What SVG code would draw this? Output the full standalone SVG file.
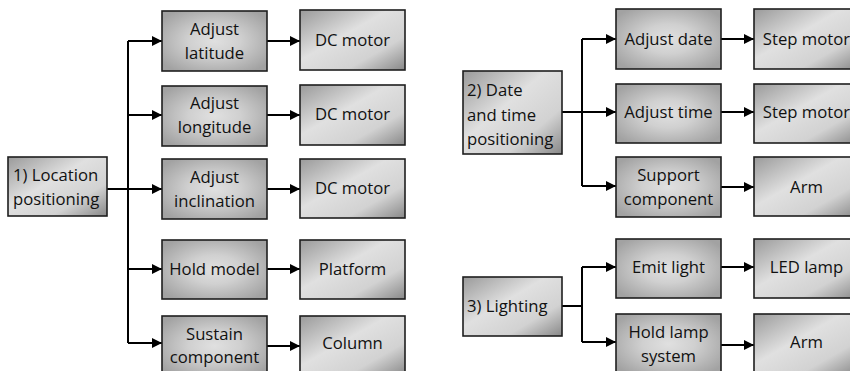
<svg xmlns="http://www.w3.org/2000/svg" width="850" height="371" viewBox="0 0 850 371">
<defs>
<linearGradient id="gDiag" x1="0" y1="0" x2="1" y2="1">
<stop offset="0" stop-color="#9a9a9a"/>
<stop offset="0.42" stop-color="#e0e0e0"/>
<stop offset="0.72" stop-color="#d2d2d2"/>
<stop offset="1" stop-color="#888888"/>
</linearGradient>
<radialGradient id="gRad" cx="0.5" cy="0.5" r="0.62">
<stop offset="0" stop-color="#e0e0e0"/>
<stop offset="0.4" stop-color="#d0d0d0"/>
<stop offset="1" stop-color="#a2a2a2"/>
</radialGradient>
<marker id="arr" viewBox="0 0 10 10" refX="10" refY="5" markerWidth="11" markerHeight="10" markerUnits="userSpaceOnUse" orient="auto">
<path d="M0,0 L10,5 L0,10 Z" fill="#000"/>
</marker>
<style>
.d{fill:url(#gDiag);stroke:#1e1e1e;stroke-width:1.6}
.r{fill:url(#gRad);stroke:#1e1e1e;stroke-width:1.6}
text{font-family:"Open Sans","Liberation Sans",sans-serif;font-size:16.7px;fill:#111}
.c{text-anchor:middle}
.ln{fill:none;stroke:#000;stroke-width:2}
.a{fill:none;stroke:#000;stroke-width:2;marker-end:url(#arr)}
</style>
</defs>

<g id="connectors">
<path class="ln" d="M107,189 H128 M128,41 V343"/>
<path class="a" d="M128,41 H162"/>
<path class="a" d="M128,115 H162"/>
<path class="a" d="M128,189 H162"/>
<path class="a" d="M128,269 H162"/>
<path class="a" d="M128,343 H162"/>
<path class="a" d="M267,41 H300"/>
<path class="a" d="M267,115 H300"/>
<path class="a" d="M267,189 H300"/>
<path class="a" d="M267,269 H300"/>
<path class="a" d="M267,346 H300"/>
<path class="ln" d="M562,112 H582 M582,39 V186"/>
<path class="a" d="M582,39 H616"/>
<path class="a" d="M582,112 H616"/>
<path class="a" d="M582,186 H616"/>
<path class="a" d="M721,39 H754"/>
<path class="a" d="M721,112 H754"/>
<path class="a" d="M721,187 H754"/>
<path class="ln" d="M562,306 H582 M582,267 V342"/>
<path class="a" d="M582,267 H616"/>
<path class="a" d="M582,342 H616"/>
<path class="a" d="M721,267 H754"/>
<path class="a" d="M721,345 H754"/>
</g>

<g id="n-location"><rect class="d" x="8" y="157" width="99" height="59"/>
<text x="13" y="181">1) Location</text><text x="13" y="205">positioning</text></g>

<g id="n-latitude"><rect class="r" x="162" y="11" width="105" height="60"/>
<text class="c" x="214.5" y="35">Adjust</text><text class="c" x="214.5" y="59">latitude</text></g>
<g id="n-longitude"><rect class="r" x="162" y="86" width="105" height="60"/>
<text class="c" x="214.5" y="109">Adjust</text><text class="c" x="214.5" y="133">longitude</text></g>
<g id="n-inclination"><rect class="r" x="162" y="159" width="105" height="60"/>
<text class="c" x="214.5" y="183">Adjust</text><text class="c" x="214.5" y="207">inclination</text></g>
<g id="n-hold"><rect class="r" x="162" y="240" width="105" height="59"/>
<text class="c" x="214.5" y="275">Hold model</text></g>
<g id="n-sustain"><rect class="r" x="162" y="316" width="105" height="60"/>
<text class="c" x="214.5" y="340">Sustain</text><text class="c" x="214.5" y="363">component</text></g>

<g id="n-dc1"><rect class="d" x="300" y="10" width="105" height="60"/>
<text class="c" x="352.5" y="46">DC motor</text></g>
<g id="n-dc2"><rect class="d" x="300" y="85" width="105" height="60"/>
<text class="c" x="352.5" y="120">DC motor</text></g>
<g id="n-dc3"><rect class="d" x="300" y="159" width="105" height="59"/>
<text class="c" x="352.5" y="194">DC motor</text></g>
<g id="n-platform"><rect class="d" x="300" y="240" width="105" height="59"/>
<text class="c" x="352.5" y="275">Platform</text></g>
<g id="n-column"><rect class="d" x="300" y="316" width="105" height="60"/>
<text class="c" x="352.5" y="349">Column</text></g>

<g id="n-datetime"><rect class="d" x="463" y="71" width="99" height="83"/>
<text x="467" y="96">2) Date</text><text x="467" y="121">and time</text><text x="467" y="145">positioning</text></g>

<g id="n-adjdate"><rect class="r" x="616" y="9" width="105" height="60"/>
<text class="c" x="668.5" y="45">Adjust date</text></g>
<g id="n-adjtime"><rect class="r" x="616" y="84" width="105" height="59"/>
<text class="c" x="668.5" y="118">Adjust time</text></g>
<g id="n-support"><rect class="r" x="616" y="157" width="105" height="60"/>
<text class="c" x="668.5" y="181">Support</text><text class="c" x="668.5" y="205">component</text></g>

<g id="n-step1"><rect class="d" x="754" y="9" width="105" height="60"/>
<text class="c" x="806.5" y="45">Step motor</text></g>
<g id="n-step2"><rect class="d" x="754" y="84" width="105" height="59"/>
<text class="c" x="806.5" y="118">Step motor</text></g>
<g id="n-arm1"><rect class="d" x="754" y="157" width="105" height="59"/>
<text class="c" x="806.5" y="193">Arm</text></g>

<g id="n-lighting"><rect class="d" x="463" y="277" width="99" height="59"/>
<text x="467" y="312">3) Lighting</text></g>

<g id="n-emit"><rect class="r" x="616" y="239" width="105" height="59"/>
<text class="c" x="668.5" y="273">Emit light</text></g>
<g id="n-holdlamp"><rect class="r" x="616" y="314" width="105" height="60"/>
<text class="c" x="668.5" y="338">Hold lamp</text><text class="c" x="668.5" y="362">system</text></g>

<g id="n-led"><rect class="d" x="754" y="239" width="105" height="59"/>
<text class="c" x="806.5" y="273">LED lamp</text></g>
<g id="n-arm2"><rect class="d" x="754" y="314" width="105" height="60"/>
<text class="c" x="806.5" y="348">Arm</text></g>
</svg>
